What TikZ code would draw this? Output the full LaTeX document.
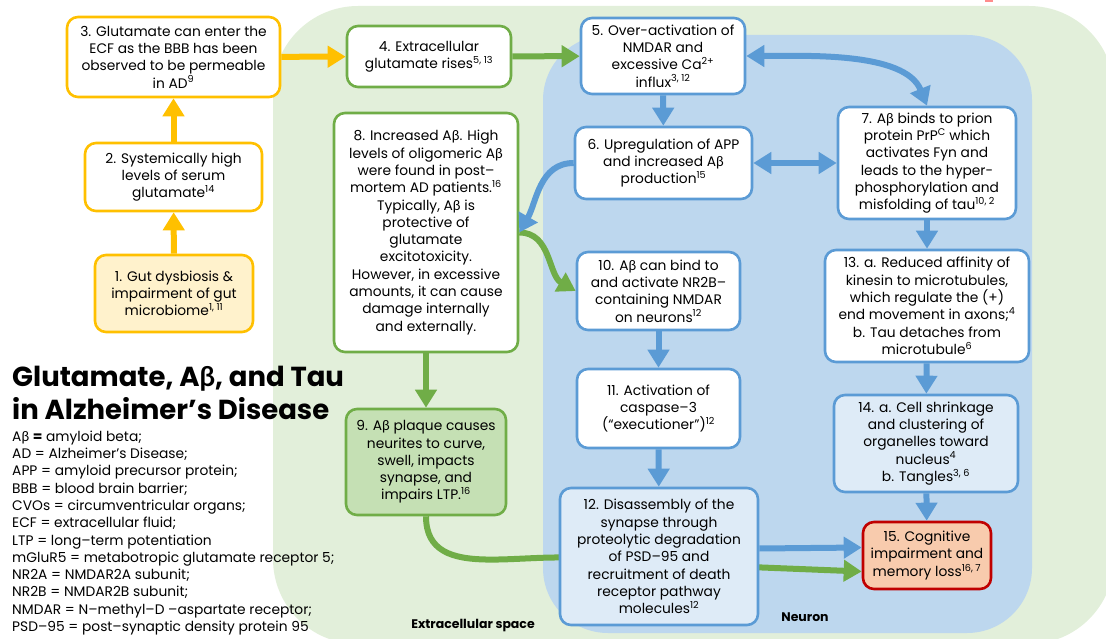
\documentclass[tikz,border=0pt]{standalone}
\usepackage{fontspec}
\setmainfont{Poppins}
\newfontfamily\grk{Lato}
\usetikzlibrary{arrows.meta, calc}

\definecolor{gold}{HTML}{FFC000}
\definecolor{leaf}{HTML}{70AD47}
\definecolor{sky}{HTML}{5B9BD5}
\definecolor{exbg}{HTML}{E2EFDA}
\definecolor{neurbg}{HTML}{BDD7EE}
\definecolor{paleyel}{HTML}{FFF2CC}
\definecolor{palegrn}{HTML}{C5E0B4}
\definecolor{paleblu}{HTML}{DEEBF7}
\definecolor{salmon}{HTML}{F8CBAD}
\definecolor{darkred}{HTML}{C00000}

\newcommand{\Ab}{A{\grk β}}
\newcommand{\up}[1]{\textsuperscript{#1}}

\begin{document}
\begin{tikzpicture}[
  x=1pt, y=1pt,
  every node/.style={font=\fontsize{13.8}{17.3}\selectfont},
  box/.style={rounded corners=11pt, line width=2.6pt, align=center, inner sep=2pt},
  ybox/.style={box, draw=gold, fill=white},
  gbox/.style={box, draw=leaf, fill=white},
  bbox/.style={box, draw=sky, fill=white},
  flow/.style={line width=6pt, -{Triangle[length=18pt,width=21pt]}},
  twoway/.style={line width=6pt, {Triangle[length=18pt,width=21pt]}-{Triangle[length=18pt,width=21pt]}}
]
\useasboundingbox (0,0) rectangle (1106,638);

% Extracellular space and neuron
\fill[exbg, rounded corners=85pt] (273,-6) rectangle (1114,632);
\fill[neurbg, rounded corners=65pt] (543,5) rectangle (1032,603);
\fill[red!45] (985,636) rectangle (993,638);
\node[font=\fontsize{12.5}{15}\selectfont\bfseries] (exlabel) at (473,12) {Extracellular space};
\node[font=\fontsize{12.5}{15}\selectfont\bfseries] (nlabel) at (805,21) {Neuron};

% Gut / blood side
\node[ybox, fill=paleyel, minimum width=158pt, minimum height=77pt] (n1) at (174,344.5)
  {1. Gut dysbiosis \&\\impairment of gut\\microbiome\up{1, 11}};
\node[ybox, minimum width=177pt, minimum height=68pt] (n2) at (173.5,461)
  {2. Systemically high\\levels of serum\\glutamate\up{14}};
\node[ybox, minimum width=213pt, minimum height=80pt] (n3) at (173.5,581)
  {3. Glutamate can enter the\\ECF as the BBB has been\\observed to be permeable\\in AD\up{9}};

% Extracellular
\node[gbox, minimum width=164pt, minimum height=61pt] (n4) at (429,581.5)
  {4. Extracellular\\glutamate rises\up{5, 13}};
\node[gbox, minimum width=184pt, minimum height=239pt] (n8) at (426,405.5)
  {8. Increased \Ab. High\\levels of oligomeric \Ab\\were found in post–\\mortem AD patients.\up{16}\\Typically, \Ab{} is\\protective of\\glutamate\\excitotoxicity.\\However, in excessive\\amounts, it can cause\\damage internally\\and externally.};
\node[gbox, fill=palegrn, minimum width=160pt, minimum height=106pt] (n9) at (426,176)
  {9. \Ab{} plaque causes\\neurites to curve,\\swell, impacts\\synapse, and\\impairs LTP.\up{16}};

% Neuron
\node[bbox, minimum width=164pt, minimum height=76pt] (n5) at (663,582)
  {5. Over-activation of\\NMDAR and\\excessive Ca\up{2+}\\influx\up{3, 12}};
\node[bbox, minimum width=177pt, minimum height=72pt] (n6) at (663.5,475)
  {6. Upregulation of APP\\and increased \Ab\\production\up{15}};
\node[bbox, minimum width=178pt, minimum height=112pt] (n7) at (927,475)
  {7. \Ab{} binds to prion\\protein PrP\up{C} which\\activates Fyn and\\leads to the hyper-\\phosphorylation and\\misfolding of tau\up{10, 2}};
\node[bbox, minimum width=163pt, minimum height=78pt] (n10) at (658.5,347)
  {10. \Ab{} can bind to\\and activate NR2B–\\containing NMDAR\\on neurons\up{12}};
\node[bbox, minimum width=163pt, minimum height=79pt] (n11) at (658.5,229.5)
  {11. Activation of\\caspase–3\\(“executioner”)\up{12}};
\node[bbox, minimum width=204pt, minimum height=112pt] (n13) at (927,332)
  {13. a. Reduced affinity of\\kinesin to microtubules,\\which regulate the (+)\\end movement in axons;\up{4}\\b. Tau detaches from\\microtubule\up{6}};
\node[bbox, fill=paleblu, minimum width=184pt, minimum height=97pt] (n14) at (926,194.5)
  {14. a. Cell shrinkage\\and clustering of\\organelles toward\\nucleus\up{4}\\b. Tangles\up{3, 6}};
\node[box, draw=darkred, fill=salmon, minimum width=128pt, minimum height=67pt] (n15) at (927,82.5)
  {15. Cognitive\\impairment and\\memory loss\up{16, 7}};

% plaque to cognitive loss, runs behind box 12
\coordinate (g1) at (600,77);
\draw[flow, leaf] (n9.south) to[out=-90, in=168] (g1) -- ([yshift=-16pt]n15.west);

\node[bbox, fill=paleblu, minimum width=198pt, minimum height=137pt] (n12) at (659,81.5)
  {12. Disassembly of the\\synapse through\\proteolytic degradation\\of PSD–95 and\\recruitment of death\\receptor pathway\\molecules\up{12}};

% Title and abbreviations
\node[anchor=west, align=left, inner sep=0pt, font=\fontsize{27.5}{33}\selectfont\bfseries] (title) at (12,245)
  {Glutamate, \Ab, and Tau\\in Alzheimer’s Disease};
\node[anchor=north west, align=left, inner sep=0pt] (abbr) at (12,207.5)
  {\Ab{} \textbf{=} amyloid beta;\\
   AD = Alzheimer’s Disease;\\
   APP = amyloid precursor protein;\\
   BBB = blood brain barrier;\\
   CVOs = circumventricular organs;\\
   ECF = extracellular fluid;\\
   LTP = long–term potentiation\\
   mGluR5 = metabotropic glutamate receptor 5;\\
   NR2A = NMDAR2A subunit;\\
   NR2B = NMDAR2B subunit;\\
   NMDAR = N–methyl–D –aspartate receptor;\\
   PSD–95 = post–synaptic density protein 95};

% Yellow arrows
\draw[flow, gold] (n1) -- (n2);
\draw[flow, gold] (n2) -- (n3);
\draw[flow, gold] (n3) -- (n4);

% Green arrows
\draw[flow, leaf] (n4) -- (n5);
\draw[flow, leaf] (n8) -- (n9);
\draw[flow, leaf] (n8.east) to[out=0, in=150] (n10.west);

% Blue arrows
\draw[flow, sky] (n5) -- (n6);
\draw[twoway, sky] (n5.east) to[out=0, in=112, looseness=0.8] (n7.north);
\draw[twoway, sky] (n6) -- (n7);
\draw[flow, sky] (n6.west) to[out=180, in=60] (n8.east);
\draw[flow, sky] (n7) -- (n13);
\draw[flow, sky] (n13) -- (n14);
\draw[flow, sky] (n14) -- (n15);
\draw[flow, sky] (n10) -- (n11);
\draw[flow, sky] (n11) -- (n12);
\draw[flow, sky] ([yshift=8pt]n12.east) -- ([yshift=8pt]n15.west);

\end{tikzpicture}
\end{document}
